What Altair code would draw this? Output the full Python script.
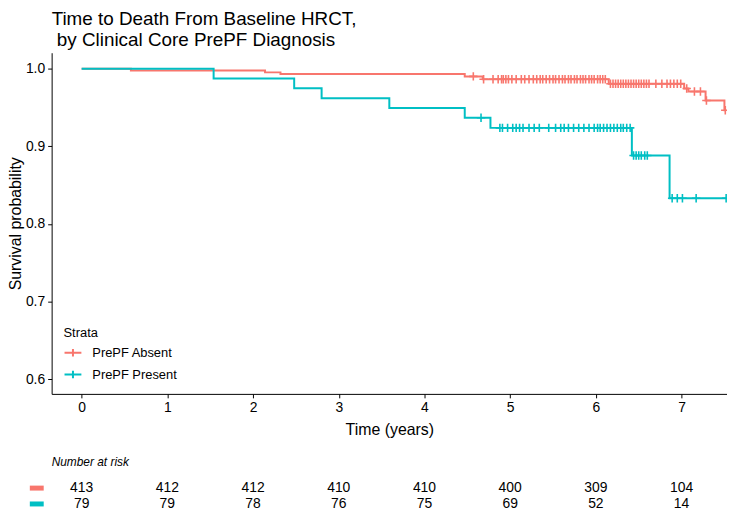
import altair as alt
import numpy as np
import pandas as pd

# ---------------- data ----------------
strata = ["PrePF Absent", "PrePF Present"]
strata_colors = ["#F8766D", "#00BFC4"]

# Kaplan-Meier step curves (time in years, survival probability)
absent_step_t = [0.0, 0.575, 2.14, 2.32, 4.47, 4.68, 6.15, 7.03, 7.08, 7.28, 7.50, 7.52]
absent_step_s = [1.0, 0.9976, 0.9952, 0.9930, 0.9900, 0.9863, 0.9805, 0.9745, 0.9706, 0.9590, 0.9465, 0.9465]
present_step_t = [0.0, 1.54, 2.48, 2.80, 3.59, 4.47, 4.77, 6.42, 6.86, 7.52]
present_step_s = [1.0, 0.9873, 0.9747, 0.9620, 0.9494, 0.9367, 0.9237, 0.8880, 0.8330, 0.8330]

# censoring times (years)
absent_censor_t = [4.57, 4.69, 4.80, 4.86, 4.90, 4.92, 4.95, 4.98, 5.02, 5.07, 5.13, 5.17,
                   5.22, 5.27, 5.31, 5.35, 5.38, 5.42, 5.46, 5.50, 5.53, 5.57, 5.61, 5.64,
                   5.68, 5.71, 5.75, 5.78, 5.82, 5.85, 5.88, 5.92, 5.95, 5.98, 6.02, 6.05,
                   6.08, 6.11, 6.17, 6.20, 6.23, 6.26, 6.29, 6.32, 6.35, 6.38, 6.41, 6.44,
                   6.47, 6.50, 6.53, 6.56, 6.59, 6.62, 6.70, 6.77, 6.83, 6.87, 6.91, 6.95,
                   6.99, 7.06, 7.15, 7.22, 7.29, 7.51]
present_censor_t = [4.66, 4.88, 4.91, 4.97, 5.03, 5.07, 5.11, 5.15, 5.22, 5.28, 5.34, 5.45,
                    5.53, 5.59, 5.63, 5.68, 5.74, 5.80, 5.86, 5.92, 5.98, 6.02, 6.05, 6.09,
                    6.13, 6.17, 6.21, 6.25, 6.29, 6.32, 6.36, 6.40, 6.44, 6.47, 6.50, 6.53,
                    6.57, 6.60, 6.89, 6.95, 7.01, 7.17, 7.52]

# number at risk table
risk_times = [0, 1, 2, 3, 4, 5, 6, 7]
absent_risk = [413, 412, 412, 410, 410, 400, 309, 104]
present_risk = [79, 79, 78, 76, 75, 69, 52, 14]

y_ticks = [0.6, 0.7, 0.8, 0.9, 1.0]

# ---------------- tables ----------------
curve_df = pd.concat([
    pd.DataFrame({"time": absent_step_t, "surv": absent_step_s, "strata": strata[0]}),
    pd.DataFrame({"time": present_step_t, "surv": present_step_s, "strata": strata[1]}),
], ignore_index=True)


def km_at(step_t, step_s, times):
    idx = np.searchsorted(np.array(step_t), np.array(times), side="right") - 1
    return [step_s[i] for i in idx]


censor_df = pd.concat([
    pd.DataFrame({"time": absent_censor_t,
                  "surv": km_at(absent_step_t, absent_step_s, absent_censor_t),
                  "strata": strata[0]}),
    pd.DataFrame({"time": present_censor_t,
                  "surv": km_at(present_step_t, present_step_s, present_censor_t),
                  "strata": strata[1]}),
], ignore_index=True)

risk_absent_df = pd.DataFrame({"time": risk_times, "n": absent_risk})
risk_present_df = pd.DataFrame({"time": risk_times, "n": present_risk})

FONT = "Liberation Sans"
NARROW = "Liberation Sans Narrow, Liberation Sans, Arial"
PLUS = "M-1,0L1,0M0,-1L0,1"
LEG = "M-1,0L1,0M0,-0.45L0,0.45"

W, H = 681, 344

x_scale = alt.Scale(domain=[-0.35, 7.53], nice=False, zero=False)
y_scale = alt.Scale(domain=[0.581, 1.0205], nice=False, zero=False)
color_scale = alt.Scale(domain=strata, range=strata_colors)

legend = alt.Legend(
    title="Strata", orient="none", legendX=12, legendY=277,
    symbolType=LEG, symbolSize=289, symbolStrokeWidth=2,
    labelFontSize=13, titleFontSize=13, titleFontWeight="normal",
    labelFont=FONT, titleFont=FONT, labelColor="black", titleColor="black",
    rowPadding=4, titlePadding=3, labelOffset=10, padding=0,
)

lines = alt.Chart(curve_df).mark_line(interpolate="step-after", strokeWidth=2).encode(
    x=alt.X("time:Q", scale=x_scale,
            axis=alt.Axis(values=risk_times, format="d", title="Time (years)")),
    y=alt.Y("surv:Q", scale=y_scale,
            axis=alt.Axis(values=y_ticks, format=".1f", title="Survival probability")),
    color=alt.Color("strata:N", scale=color_scale, legend=legend),
)

censors = alt.Chart(censor_df).mark_point(
    shape=PLUS, filled=False, size=72, strokeWidth=1.6, opacity=1
).encode(
    x=alt.X("time:Q", scale=x_scale),
    y=alt.Y("surv:Q", scale=y_scale),
    color=alt.Color("strata:N", scale=color_scale, legend=legend),
)

nar_title = alt.Chart(pd.DataFrame({"label": ["Number at risk"]})).mark_text(
    align="left", baseline="middle", fontStyle="italic", fontSize=12, font=NARROW, color="black"
).encode(x=alt.value(0), y=alt.value(H + 69), text="label:N")

row1 = alt.Chart(risk_absent_df).mark_text(
    baseline="middle", fontSize=14, font=NARROW, color="black"
).encode(x=alt.X("time:Q", scale=x_scale), y=alt.value(H + 95), text="n:Q")

row2 = alt.Chart(risk_present_df).mark_text(
    baseline="middle", fontSize=14, font=NARROW, color="black"
).encode(x=alt.X("time:Q", scale=x_scale), y=alt.value(H + 111), text="n:Q")

key1 = alt.Chart(pd.DataFrame({"k": [strata[0]]})).mark_rect(color=strata_colors[0]).encode(
    x=alt.value(-22), x2=alt.value(-8), y=alt.value(H + 92.5), y2=alt.value(H + 97.5))
key2 = alt.Chart(pd.DataFrame({"k": [strata[1]]})).mark_rect(color=strata_colors[1]).encode(
    x=alt.value(-22), x2=alt.value(-8), y=alt.value(H + 108.5), y2=alt.value(H + 113.5))

chart = alt.layer(lines, censors, nar_title, row1, row2, key1, key2).properties(
    width=W, height=H,
    autosize=alt.AutoSizeParams(type="none"),
    padding={"left": 44, "top": 43, "right": 0, "bottom": 117},
    title=alt.Title(
        ["Time to Death From Baseline HRCT,", "\u200b\u00a0by Clinical Core PrePF Diagnosis"],
        anchor="start", frame="group", fontSize=19, fontWeight="normal",
        font=FONT, color="black", lineHeight=21, offset=3,
    ),
).configure_view(stroke=None).configure_axis(
    grid=False, labelFont=FONT, titleFont=FONT, labelFontSize=14, titleFontSize=16,
    labelColor="black", titleColor="black", titleFontWeight="normal",
    domainColor="black", tickColor="black", tickSize=4, labelPadding=3,
).configure_axisY(titlePadding=2).configure_axisX(titlePadding=7)

chart.save("out.html", embed_options={"renderer": "svg", "actions": False})
